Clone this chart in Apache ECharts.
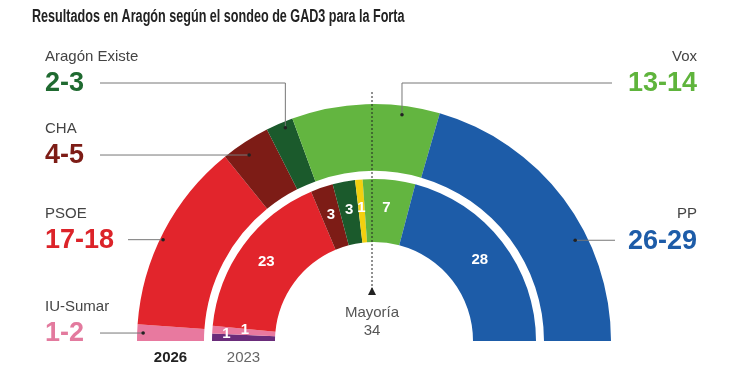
<!DOCTYPE html>
<html><head><meta charset="utf-8">
<script src="https://cdn.jsdelivr.net/npm/echarts@6/dist/echarts.min.js"></script>
<style>html,body{margin:0;padding:0;background:#fff}#c{width:750px;height:375px}</style>
</head><body><div id="c"></div>
<script>
// ---- data ----
const parties2026 = ['IU-Sumar', 'PSOE', 'CHA', 'Aragón Existe', 'Vox', 'PP'];
const low2026 = [1, 17, 4, 2, 13, 26];
const high2026 = [2, 18, 5, 3, 14, 29];
const parties2023 = ['Podemos', 'IU', 'PSOE', 'CHA', 'Teruel Existe', 'PAR', 'Vox', 'PP'];
const seats2023 = [1, 1, 23, 3, 3, 1, 7, 28];
const majority = 34;
const totalSeats = 67;

// ---- style ----
const colors2026 = ['#e8799f', '#e2252c', '#7d1c16', '#1b5a2c', '#63b540', '#1d5ca8'];
const colors2023 = ['#6a2c7a', '#e8799f', '#e2252c', '#7d1c16', '#1b5a2c', '#f2d00f', '#63b540', '#1d5ca8'];
const numColors = ['#e37a9e', '#dc2329', '#7d1c16', '#1f6a30', '#5fb43c', '#1d5ca8'];
const labelOffsets2023 = {'Podemos': [-14, -4], 'IU': [4, -2]};
const cx = 374, cy = 341;
const outerR = [170, 237], innerR = [99, 162];

const mid2026 = low2026.map((l, i) => (l + high2026[i]) / 2);

// label layout: fraction within slice, radius, side, fixed label y (or null), line start x
const layout = {
  'IU-Sumar':      {f: 0.49, r: 231, side: 'L', ly: null, lx: 100},
  'PSOE':          {f: 0.46, r: 234, side: 'L', ly: null, lx: 128},
  'CHA':           {f: 0.42, r: 224, side: 'L', ly: null, lx: 100},
  'Aragón Existe': {f: 0.64, r: 231, side: 'L', ly: 83, lx: 100},
  'Vox':           {f: 0.75, r: 228, side: 'R', ly: 83, lx: 612},
  'PP':            {f: 0.64, r: 225, side: 'R', ly: null, lx: 615}
};

const graphics = [];
const baseFont = "'Liberation Sans', Arial, sans-serif";
graphics.push({type: 'text', x: 32, y: 17, scaleX: 0.70, z: 20,
  style: {text: 'Resultados en Aragón según el sondeo de GAD3 para la Forta', font: 'bold 18px ' + baseFont, fill: '#222', verticalAlign: 'middle'}});

let cum = 0;
parties2026.forEach((p, i) => {
  const L = layout[p];
  const s = cum + mid2026[i] * L.f;
  cum += mid2026[i];
  const th = Math.PI - s / totalSeats * Math.PI;
  const dx = cx + L.r * Math.cos(th), dy = cy - L.r * Math.sin(th);
  const ly = L.ly == null ? dy : L.ly;
  const pts = L.ly == null ? [[L.lx, ly], [dx, dy]] : [[L.lx, ly], [dx, ly], [dx, dy]];
  graphics.push({type: 'polyline', z: 20, shape: {points: pts}, style: {stroke: '#777', lineWidth: 1, fill: null}, silent: true});
  graphics.push({type: 'circle', z: 21, shape: {cx: dx, cy: dy, r: 1.8}, style: {fill: '#222'}, silent: true});
  const tx = L.side === 'L' ? 45 : 697;
  const align = L.side === 'L' ? 'left' : 'right';
  graphics.push({type: 'text', z: 20, x: tx, y: ly - 26, style: {text: p, font: '15px ' + baseFont, fill: '#444', align: align, verticalAlign: 'middle'}});
  graphics.push({type: 'text', z: 20, x: tx, y: ly + 1, style: {text: low2026[i] + '-' + high2026[i], font: 'bold 27px ' + baseFont, fill: numColors[i], align: align, verticalAlign: 'middle'}});
});

// majority marker
graphics.push({type: 'line', z: 20, shape: {x1: cx - 2, y1: 92, x2: cx - 2, y2: 289}, style: {stroke: '#222', lineWidth: 1, lineDash: [2, 2]}, silent: true});
graphics.push({type: 'polygon', z: 20, shape: {points: [[cx - 2, 287], [cx - 6, 295], [cx + 2, 295]]}, style: {fill: '#222'}});
graphics.push({type: 'text', z: 20, x: cx - 2, y: 313, style: {text: 'Mayoría', font: '15px ' + baseFont, fill: '#555', align: 'center', verticalAlign: 'middle'}});
graphics.push({type: 'text', z: 20, x: cx - 2, y: 331, style: {text: String(majority), font: '15px ' + baseFont, fill: '#555', align: 'center', verticalAlign: 'middle'}});
// year labels
graphics.push({type: 'text', z: 20, x: (cx - outerR[0] + cx - outerR[1]) / 2, y: 358, style: {text: '2026', font: 'bold 15px ' + baseFont, fill: '#222', align: 'center', verticalAlign: 'middle'}});
graphics.push({type: 'text', z: 20, x: (cx - innerR[0] + cx - innerR[1]) / 2, y: 358, style: {text: '2023', font: '15px ' + baseFont, fill: '#666', align: 'center', verticalAlign: 'middle'}});

const chart = echarts.init(document.getElementById('c'), null, {renderer: 'canvas'});
chart.setOption({
  animation: false,
  backgroundColor: '#fff',
  series: [
    {
      type: 'pie', silent: true, center: [cx, cy], radius: outerR, z: 2,
      startAngle: 180, endAngle: 0, clockwise: true, minAngle: 0,
      label: {show: false}, labelLine: {show: false},
      data: parties2026.map((p, i) => ({name: p, value: mid2026[i], itemStyle: {color: colors2026[i]}}))
    },
    {
      type: 'pie', silent: true, center: [cx, cy], radius: innerR, z: 2,
      startAngle: 180, endAngle: 0, clockwise: true, minAngle: 0, avoidLabelOverlap: false,
      labelLayout: {hideOverlap: false},
      label: {show: true, position: 'inside', formatter: '{c}', color: '#fff', fontWeight: 'bold', fontSize: 15, fontFamily: 'Liberation Sans, Arial, sans-serif', textBorderWidth: 0},
      labelLine: {show: false},
      data: parties2023.map((p, i) => ({
        name: p, value: seats2023[i], itemStyle: {color: colors2023[i]},
        label: labelOffsets2023[p] ? {offset: labelOffsets2023[p]} : undefined
      }))
    }
  ],
  graphic: graphics
});
</script></body></html>
